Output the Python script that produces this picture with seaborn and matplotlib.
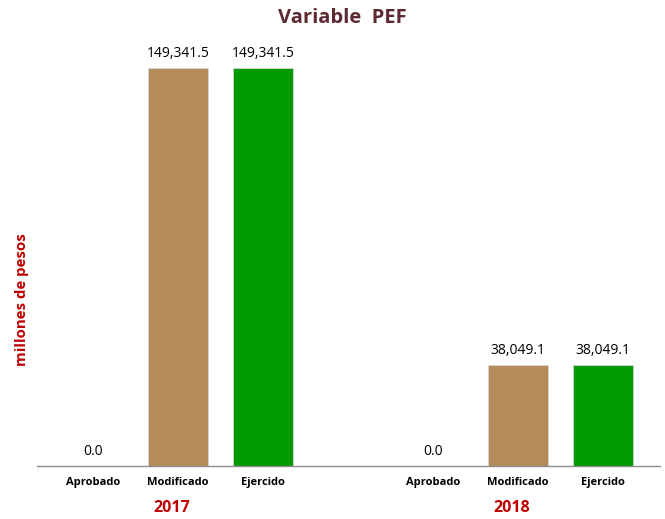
import matplotlib
matplotlib.use("Agg")
import matplotlib.pyplot as plt
import matplotlib.transforms as mtransforms
import seaborn as sns
import pandas as pd

# Data
years = ["2017", "2018"]
stages = ["Aprobado", "Modificado", "Ejercido"]
values_2017 = [0.0, 149341.5, 149341.5]
values_2018 = [0.0, 38049.1, 38049.1]
stage_colors = {"Aprobado": "#B38C5A", "Modificado": "#B38C5A", "Ejercido": "#009900"}

sns.set_theme(style="white")
plt.rcParams["font.family"] = ["Open Sans", "DejaVu Sans"]

# Bar positions: two groups of three, separated by an empty gap
positions = [0, 1, 2, 4, 5, 6]
df = pd.DataFrame({
    "pos": positions,
    "value": values_2017 + values_2018,
    "stage": stages * 2,
    "year": [years[0]] * 3 + [years[1]] * 3,
})

fig = plt.figure(figsize=(6.65, 5.19), dpi=100)
ax = fig.add_axes([37 / 665, 53 / 519, 623 / 665, 436 / 519])

sns.barplot(data=df, x="pos", y="value", hue="stage", palette=stage_colors,
            native_scale=True, dodge=False, width=0.706, legend=False,
            saturation=1, edgecolor="#d9d9d9", linewidth=0.6, ax=ax)

ax.set_xlim(-0.659, 6.67)
ax.set_ylim(0, 163600)

for spine in ["top", "right", "left"]:
    ax.spines[spine].set_visible(False)
ax.spines["bottom"].set_color("#8c8c8c")
ax.spines["bottom"].set_linewidth(1.0)
ax.set_yticks([])
ax.set_xticks(positions)
ax.set_xticklabels(stages * 2, fontsize=8, fontweight="bold", color="#000000")
ax.tick_params(axis="x", length=0, pad=12)
for lbl in ax.get_xticklabels():
    lbl.set_verticalalignment("center")
ax.set_xlabel("")
ax.set_ylabel("")

# Value labels above each bar
for p, v in zip(df["pos"], df["value"]):
    ax.annotate(f"{v:,.1f}", xy=(p, v), xytext=(0, 5), textcoords="offset points",
                ha="center", va="bottom", fontsize=10, color="#000000")

# Year labels under each group (x in data units, y in figure fraction)
year_tf = mtransforms.blended_transform_factory(ax.transData, fig.transFigure)
year_shift = mtransforms.ScaledTranslation(-6 / 100, 0, fig.dpi_scale_trans)
for center, yr in zip([1, 5], years):
    ax.text(center, 1 - 508 / 519, yr, transform=year_tf + year_shift,
            ha="center", va="center", fontsize=11.5, fontweight="bold",
            color="#C00000")

fig.text(342 / 665, 1 - 18 / 519, "Variable  PEF", ha="center", va="center",
         fontsize=14.5, fontweight="bold", color="#5C2A30")
fig.text(22 / 665, 1 - 300 / 519, "millones de pesos", ha="center", va="center",
         rotation=90, fontsize=10.8, fontweight="bold", color="#C00000")

fig.savefig("out.png", dpi=100)
